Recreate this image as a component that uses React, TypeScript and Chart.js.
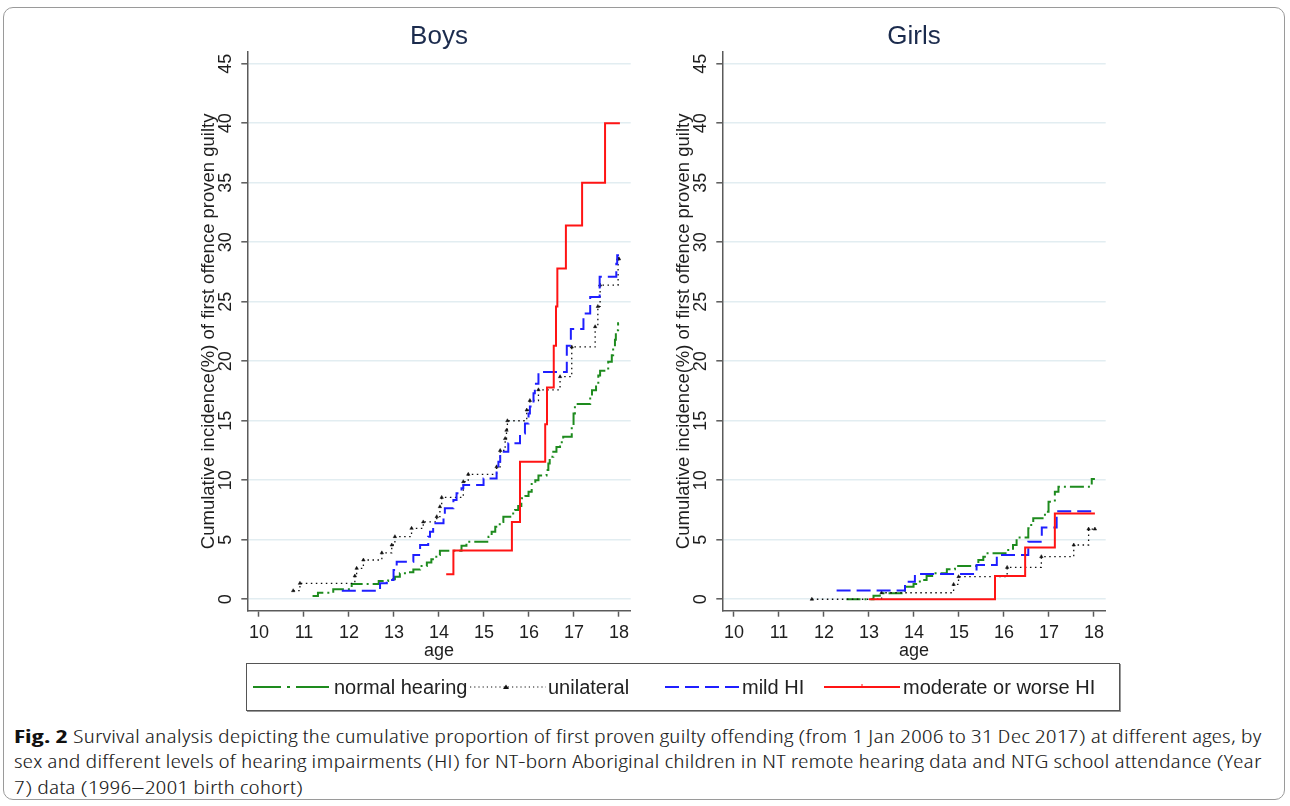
import React, { useEffect, useLayoutEffect, useRef } from "react";
import { Chart, registerables } from "chart.js";

Chart.register(...registerables);

// ---------- data ----------
const xTicks = [10, 11, 12, 13, 14, 15, 16, 17, 18];
const yTicks = [0, 5, 10, 15, 20, 25, 30, 35, 40, 45];
const panelTitles = ["Boys", "Girls"];
const seriesLabels = ["normal hearing", "unilateral", "mild HI", "moderate or worse HI"];
const yTitle = "Cumulative incidence(%) of first offence proven guilty";
const xTitle = "age";

// [age, cumulative incidence %]
const boysNormal: [number, number][] = [
  [11.19, 0.28], [11.31, 0.55], [11.65, 0.84], [12.06, 1.28], [12.66, 1.53], [12.87, 1.68],
  [13.02, 1.9], [13.13, 2.18], [13.29, 2.26], [13.43, 2.5], [13.58, 2.8], [13.73, 3.08],
  [13.83, 3.36], [13.94, 3.72], [14.02, 4.08], [14.5, 4.5], [14.61, 4.84], [15.1, 5.26],
  [15.17, 5.68], [15.25, 6.1], [15.35, 6.5], [15.43, 6.94], [15.61, 7.2], [15.69, 7.5],
  [15.76, 7.83], [15.83, 8.48], [15.92, 8.67], [15.99, 9.04], [16.06, 9.68], [16.14, 10.0],
  [16.21, 10.4], [16.39, 10.86], [16.43, 11.4], [16.46, 11.97], [16.54, 12.4], [16.61, 12.8],
  [16.69, 13.2], [16.76, 13.65], [16.95, 14.63], [16.99, 15.6], [17.02, 16.4], [17.36, 17.0],
  [17.4, 17.57], [17.49, 18.1], [17.54, 18.8], [17.58, 19.2], [17.76, 19.95], [17.84, 20.5],
  [17.87, 21.1], [17.91, 21.8], [17.93, 22.6], [17.98, 23.2], [18.0, 23.2],
];
const boysUnilateral: [number, number][] = [
  [10.76, 0.72], [10.91, 1.34], [12.13, 1.96], [12.17, 2.6], [12.32, 3.3], [12.73, 3.9],
  [12.95, 4.56], [13.02, 5.26], [13.39, 5.96], [13.65, 6.5], [13.95, 6.94], [14.02, 7.78],
  [14.06, 8.56], [14.54, 9.88], [14.65, 10.5], [15.28, 11.13], [15.36, 12.5], [15.47, 13.5],
  [15.5, 14.2], [15.52, 15.0], [15.95, 15.9], [16.02, 16.7], [16.21, 17.6], [16.69, 18.7],
  [16.95, 21.2], [17.47, 22.9], [17.53, 24.6], [17.58, 26.4], [17.98, 28.6], [18.0, 28.6],
];
const boysMild: [number, number][] = [
  [11.84, 0.72], [12.69, 1.34], [12.84, 1.62], [12.99, 2.46], [13.06, 3.15], [13.43, 3.72],
  [13.58, 4.56], [13.76, 5.26], [13.8, 5.68], [13.87, 6.38], [14.1, 7.08], [14.13, 7.64],
  [14.32, 8.34], [14.39, 8.9], [14.5, 9.32], [14.54, 9.6], [14.99, 10.15], [15.28, 10.85],
  [15.32, 11.55], [15.36, 12.4], [15.54, 13.1], [15.8, 13.93], [15.91, 14.77], [15.99, 15.6],
  [16.02, 16.2], [16.1, 17.3], [16.13, 18.1], [16.21, 19.1], [16.84, 21.3], [16.93, 22.7],
  [17.21, 24.0], [17.36, 25.4], [17.57, 27.1], [17.94, 28.2], [17.96, 28.9], [18.0, 28.9],
];
const boysModerate: [number, number][] = [
  [14.16, 2.1], [14.32, 4.1], [15.62, 6.5], [15.8, 11.55], [16.36, 14.7], [16.4, 17.8],
  [16.55, 21.3], [16.6, 24.6], [16.63, 27.8], [16.82, 31.4], [17.18, 35.0], [17.69, 40.0],
  [18.02, 40.0],
];

const girlsNormal: [number, number][] = [
  [12.5, 0], [13.1, 0.3], [13.24, 0.5], [13.8, 1.06], [13.99, 1.29], [14.13, 1.62],
  [14.28, 1.96], [14.43, 2.18], [14.73, 2.52], [14.91, 2.8], [15.43, 3.3], [15.54, 3.58],
  [15.61, 3.86], [16.06, 4.14], [16.2, 4.56], [16.28, 5.2], [16.54, 5.96], [16.58, 6.24],
  [16.65, 6.8], [16.91, 7.36], [16.99, 8.2], [17.13, 9.04], [17.21, 9.46], [17.95, 10.1],
  [18.02, 10.1],
];
const girlsUnilateral: [number, number][] = [
  [11.73, 0], [13.28, 0.55], [14.88, 1.25], [14.99, 1.9], [16.07, 2.68], [16.83, 3.58],
  [17.55, 4.56], [17.88, 5.9], [18.02, 5.9],
];
const girlsMild: [number, number][] = [
  [12.28, 0.73], [13.8, 1.48], [14.02, 2.12], [15.39, 2.88], [15.84, 3.72], [16.54, 4.84],
  [16.84, 6.04], [17.17, 7.4], [18.02, 7.4],
];
const girlsModerate: [number, number][] = [
  [13.0, 0], [15.8, 1.96], [16.47, 4.34], [17.13, 7.2], [18.02, 7.2],
];

const captionLines = [
  "Survival analysis depicting the cumulative proportion of first proven guilty offending (from 1 Jan 2006 to 31 Dec 2017) at different ages, by",
  "sex and different levels of hearing impairments (HI) for NT-born Aboriginal children in NT remote hearing data and NTG school attendance (Year",
  "7) data (1996\u20132001 birth cohort)",
];

// ---------- styles ----------
const FONT = '"Liberation Sans", Arial, Helvetica, sans-serif';
const AXIS = "#5a5a5a";
const GRID = "rgb(226,237,241)";
const GREEN = "#1e8b1e";
const BLACK = "#111111";
const BLUE = "#1f1fff";
const RED = "#ff1414";

const CANVAS_W = 490;
const CANVAS_H = 680;
const AREA_LEFT = 87.3;
const AREA_RIGHT_PAD = 19.3;
const AREA_TOP = 52;
const AREA_BOTTOM = 610.7;

const toXY = (a: [number, number][]) => a.map(([x, y]) => ({ x, y }));

function makeTextPlugin(title: string) {
  return {
    id: "stataText",
    afterDraw(chart: any) {
      const { ctx, chartArea: ca, scales } = chart;
      const xs = scales.x;
      const ys = scales.y;
      const cx = (ca.left + ca.right) / 2;
      ctx.save();
      ctx.fillStyle = "#1e1e1e";
      ctx.textAlign = "center";
      ctx.textBaseline = "middle";
      ctx.font = `18px ${FONT}`;
      for (const v of yTicks) {
        const py = ys.getPixelForValue(v);
        ctx.save();
        ctx.translate(ca.left - 21, py);
        ctx.rotate(-Math.PI / 2);
        ctx.fillText(String(v), 0, 0);
        ctx.restore();
      }
      for (const v of xTicks) {
        ctx.fillText(String(v), xs.getPixelForValue(v), 633);
      }
      ctx.fillText(xTitle, cx, 651);
      ctx.font = `18.5px ${FONT}`;
      ctx.save();
      ctx.translate(ca.left - 38, (ca.top + ca.bottom) / 2);
      ctx.rotate(-Math.PI / 2);
      ctx.fillText(yTitle, 0, 0);
      ctx.restore();
      ctx.font = `26px ${FONT}`;
      ctx.fillStyle = "#1b2b4d";
      ctx.fillText(title, cx, 37);
      ctx.restore();
    },
  };
}

function Panel(props: { left: number; title: string; data: [number, number][][] }) {
  const ref = useRef<HTMLCanvasElement>(null);
  useEffect(() => {
    const [normal, uni, mild, mod] = props.data;
    const common = { stepped: true, fill: false, pointRadius: 0, pointHoverRadius: 0 };
    const chart = new Chart(ref.current as HTMLCanvasElement, {
      type: "line",
      data: {
        datasets: [
          { ...common, label: seriesLabels[0], data: toXY(normal), borderColor: GREEN, backgroundColor: GREEN, borderWidth: 2, borderDash: [14, 4, 2, 4], order: 4 },
          {
            ...common, label: seriesLabels[1], data: toXY(uni), borderColor: BLACK, backgroundColor: BLACK,
            borderWidth: 1.3, borderDash: [1.5, 3.5], order: 3,
            pointRadius: 2, pointStyle: "triangle", pointBackgroundColor: BLACK, pointBorderWidth: 0.5,
          },
          { ...common, label: seriesLabels[2], data: toXY(mild), borderColor: BLUE, backgroundColor: BLUE, borderWidth: 2, borderDash: [14, 6], order: 2 },
          { ...common, label: seriesLabels[3], data: toXY(mod), borderColor: RED, backgroundColor: RED, borderWidth: 2, order: 1 },
        ],
      } as any,
      options: {
        animation: false,
        responsive: false,
        devicePixelRatio: 1,
        layout: { padding: { left: 0, right: AREA_RIGHT_PAD, top: AREA_TOP, bottom: 0 } },
        plugins: { legend: { display: false }, tooltip: { enabled: false }, title: { display: false } },
        events: [],
        scales: {
          x: {
            type: "linear",
            min: 9.74,
            max: 18.26,
            afterBuildTicks: (s: any) => { s.ticks = xTicks.map((v) => ({ value: v })); },
            afterFit: (s: any) => { s.height = CANVAS_H - AREA_BOTTOM; },
            ticks: { display: false },
            grid: { drawOnChartArea: false, drawTicks: true, tickLength: 6, tickColor: AXIS, tickWidth: 1.5, color: AXIS },
            border: { display: true, color: AXIS, width: 1.5 },
          },
          y: {
            type: "linear",
            min: -0.96,
            max: 45.98,
            afterBuildTicks: (s: any) => { s.ticks = yTicks.map((v) => ({ value: v })); },
            afterFit: (s: any) => { s.width = AREA_LEFT; },
            ticks: { display: false },
            grid: { color: GRID, lineWidth: 1.6, drawTicks: true, tickLength: 6, tickColor: AXIS, tickWidth: 1.5 },
            border: { display: true, color: AXIS, width: 1.5 },
          },
        },
      } as any,
      plugins: [makeTextPlugin(props.title)],
    });
    return () => chart.destroy();
  }, []);
  return (
    <canvas
      ref={ref}
      width={CANVAS_W}
      height={CANVAS_H}
      style={{ position: "absolute", left: props.left, top: 0, width: CANVAS_W, height: CANVAS_H }}
    />
  );
}

function LegendSample(props: { kind: number }) {
  const k = props.kind;
  return (
    <svg width={76} height={14} style={{ display: "block" }}>
      {k === 0 && <line x1={0} y1={7} x2={76} y2={7} stroke={GREEN} strokeWidth={2} strokeDasharray="28 6 3 6 40" />}
      {k === 1 && (
        <g>
          <line x1={0} y1={7} x2={76} y2={7} stroke={BLACK} strokeWidth={1.2} strokeDasharray="1.2 3" />
          <polygon points="36,4.5 39,9 33,9" fill={BLACK} />
        </g>
      )}
      {k === 2 && <line x1={0} y1={7} x2={76} y2={7} stroke={BLUE} strokeWidth={2} strokeDasharray="14 6" />}
      {k === 3 && (
        <g>
          <line x1={0} y1={7} x2={76} y2={7} stroke={RED} strokeWidth={2} />
          <line x1={38} y1={4} x2={38} y2={7} stroke={RED} strokeWidth={1} />
        </g>
      )}
    </svg>
  );
}

const legendSampleX = [253, 470, 665, 824];
const legendTextX = [334, 548, 742, 903];

export default function App() {
  const lineRefs = useRef<(HTMLSpanElement | null)[]>([]);

  useLayoutEffect(() => {
    const fit = () => {
      const target = 1248;
      const els = lineRefs.current;
      let s0 = 1;
      els.forEach((el, i) => {
        if (!el) return;
        el.style.transform = "none";
        const w = el.offsetWidth;
        let s = w > 0 ? target / w : 1;
        if (i === 0) s0 = s;
        if (i === 2) s = s0;
        el.style.transform = `scaleX(${s})`;
      });
    };
    fit();
    if ((document as any).fonts && (document as any).fonts.ready) {
      (document as any).fonts.ready.then(fit);
    }
  }, []);

  const captionFont = '"Open Sans", "Liberation Sans Narrow", "Liberation Sans", sans-serif';
  const captionTops = [724, 749, 775];

  return (
    <div
      style={{
        position: "absolute",
        left: 0,
        top: 0,
        width: 1290,
        height: 806,
        overflow: "hidden",
        background: "#ffffff",
        fontFamily: FONT,
      }}
    >
      <div
        style={{
          position: "absolute",
          left: 3,
          top: 7,
          width: 1282,
          height: 793,
          border: "1px solid #9a9a9a",
          borderRadius: 10,
          boxSizing: "border-box",
        }}
      />
      <Panel left={160} title={panelTitles[0]} data={[boysNormal, boysUnilateral, boysMild, boysModerate]} />
      <Panel left={635} title={panelTitles[1]} data={[girlsNormal, girlsUnilateral, girlsMild, girlsModerate]} />

      <div
        style={{
          position: "absolute",
          left: 246,
          top: 663,
          width: 874,
          height: 48,
          border: "1.5px solid #555",
          boxShadow: "1px 1px 0 #999",
          boxSizing: "border-box",
          background: "#fff",
        }}
      />
      {seriesLabels.map((lab, i) => (
        <React.Fragment key={lab}>
          <div style={{ position: "absolute", left: legendSampleX[i], top: 680 }}>
            <LegendSample kind={i} />
          </div>
          <div
            style={{
              position: "absolute",
              left: legendTextX[i],
              top: 675,
              fontSize: 20,
              lineHeight: "24px",
              color: "#222",
              whiteSpace: "nowrap",
              fontFamily: FONT,
            }}
          >
            {lab}
          </div>
        </React.Fragment>
      ))}

      {captionLines.map((t, i) => (
        <div
          key={i}
          style={{ position: "absolute", left: 14, top: captionTops[i], whiteSpace: "nowrap", lineHeight: "25px" }}
        >
          <span
            ref={(el) => { lineRefs.current[i] = el; }}
            style={{
              display: "inline-block",
              transformOrigin: "0 0",
              fontFamily: captionFont,
              fontStretch: "75%",
              fontWeight: 300,
              fontSize: 18,
              color: "#222",
            }}
          >
            {i === 0 && <b style={{ color: "#111", fontWeight: 700 }}>Fig. 2</b>}
            {i === 0 ? " " + t : t}
          </span>
        </div>
      ))}
    </div>
  );
}
